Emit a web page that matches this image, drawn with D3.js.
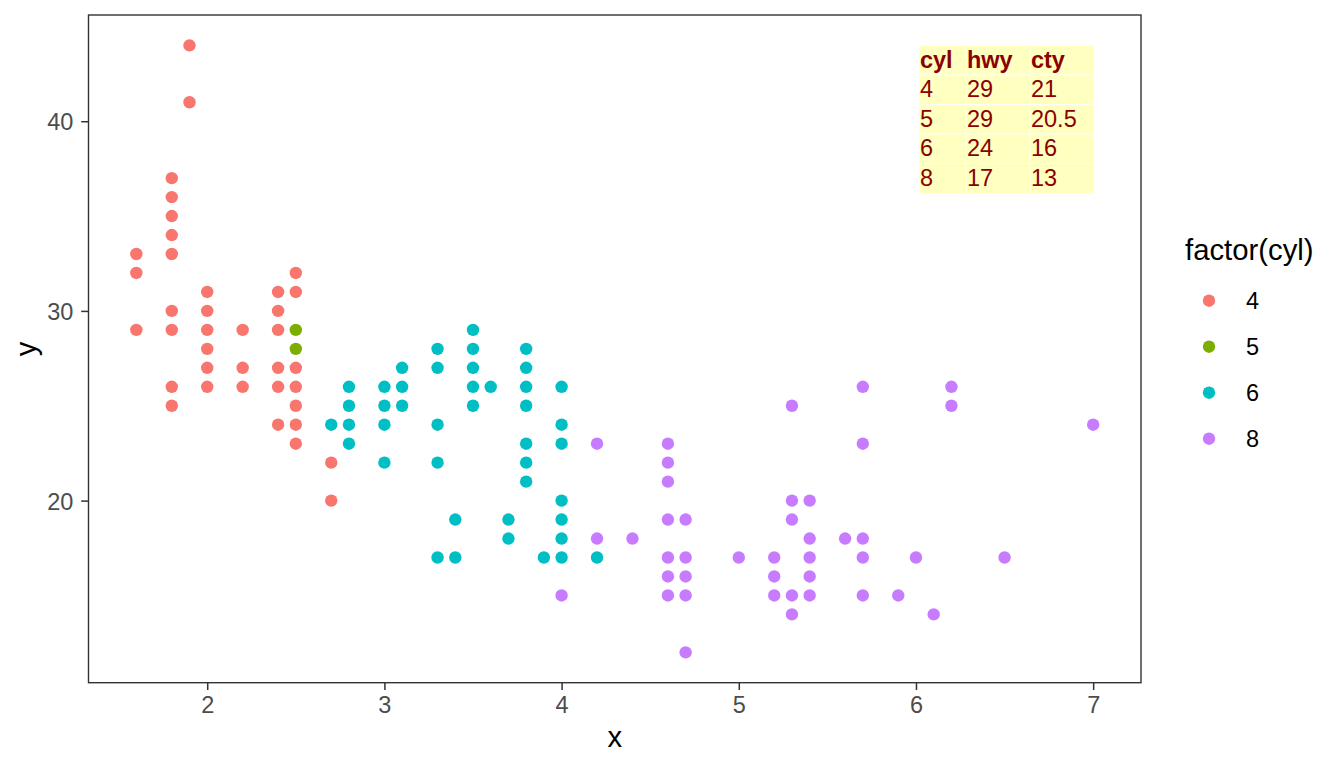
<!DOCTYPE html>
<html>
<head>
<meta charset="utf-8">
<script src="https://cdn.jsdelivr.net/npm/d3@7"></script>
<style>
  html, body { margin: 0; padding: 0; background: #ffffff; }
  svg { display: block; font-family: "Liberation Sans", Arial, sans-serif; }
</style>
</head>
<body>
<svg id="chart"></svg>
<script>
// data: displ (x) and hwy (y) per cylinder group
const cylLevels = ["4", "5", "6", "8"];
const cylColors = ["#F8766D", "#7CAE00", "#00BFC4", "#C77CFF"];

const displ4 = [1.6, 1.6, 1.6,
  1.8, 1.8, 1.8, 1.8, 1.8, 1.8, 1.8, 1.8, 1.8,
  1.9, 1.9,
  2.0, 2.0, 2.0, 2.0, 2.0, 2.0,
  2.2, 2.2, 2.2,
  2.4, 2.4, 2.4, 2.4, 2.4, 2.4,
  2.5, 2.5, 2.5, 2.5, 2.5, 2.5, 2.5,
  2.7, 2.7];
const hwy4 = [33, 32, 29,
  37, 36, 35, 34, 33, 30, 29, 26, 25,
  44, 41,
  31, 30, 29, 28, 27, 26,
  29, 27, 26,
  31, 30, 29, 27, 26, 24,
  32, 31, 27, 26, 25, 24, 23,
  22, 20];

const displ5 = [2.5, 2.5];
const hwy5 = [29, 28];

const displ6 = [2.7,
  2.8, 2.8, 2.8, 2.8,
  3.0, 3.0, 3.0, 3.0,
  3.1, 3.1, 3.1,
  3.3, 3.3, 3.3, 3.3, 3.3,
  3.4, 3.4,
  3.5, 3.5, 3.5, 3.5, 3.5,
  3.6,
  3.7, 3.7,
  3.8, 3.8, 3.8, 3.8, 3.8, 3.8, 3.8,
  3.9,
  4.0, 4.0, 4.0, 4.0, 4.0, 4.0, 4.0,
  4.2];
const hwy6 = [24,
  26, 25, 24, 23,
  26, 25, 24, 22,
  27, 26, 25,
  28, 27, 24, 22, 17,
  19, 17,
  29, 28, 27, 26, 25,
  26,
  19, 18,
  28, 27, 26, 25, 23, 22, 21,
  17,
  26, 24, 23, 20, 19, 18, 17,
  17];

const displ8 = [4.0,
  4.2, 4.2,
  4.4,
  4.6, 4.6, 4.6, 4.6, 4.6, 4.6, 4.6,
  4.7, 4.7, 4.7, 4.7, 4.7,
  5.0,
  5.2, 5.2, 5.2,
  5.3, 5.3, 5.3, 5.3, 5.3,
  5.4, 5.4, 5.4, 5.4, 5.4,
  5.6,
  5.7, 5.7, 5.7, 5.7, 5.7,
  5.9, 6.0, 6.1,
  6.2, 6.2,
  6.5, 7.0];
const hwy8 = [15,
  23, 18,
  18,
  23, 22, 21, 19, 17, 16, 15,
  19, 17, 16, 15, 12,
  17,
  17, 16, 15,
  25, 20, 19, 15, 14,
  20, 18, 17, 16, 15,
  18,
  26, 23, 18, 17, 15,
  15, 17, 14,
  26, 25,
  17, 24];

const xTicks = [2, 3, 4, 5, 6, 7];
const yTicks = [20, 30, 40];

// summary table drawn in the top right corner
const tableHeader = ["cyl", "hwy", "cty"];
const tableCyl = ["4", "5", "6", "8"];
const tableHwy = ["29", "29", "24", "17"];
const tableCty = ["21", "20.5", "16", "13"];

const width = 1344;
const height = 768;
const panel = {left: 88.5, right: 1141, top: 15, bottom: 682.7};

const svg = d3.select("#chart")
  .attr("width", width)
  .attr("height", height);

const groups = [
  {cyl: "4", x: displ4, y: hwy4},
  {cyl: "5", x: displ5, y: hwy5},
  {cyl: "6", x: displ6, y: hwy6},
  {cyl: "8", x: displ8, y: hwy8}
];
const points = groups.flatMap(g => g.x.map((d, i) => ({displ: d, hwy: g.y[i], cyl: g.cyl})));

const color = d3.scaleOrdinal().domain(cylLevels).range(cylColors);

// ggplot-style 5% expansion of the data range
const xExt = d3.extent(points, d => d.displ);
const yExt = d3.extent(points, d => d.hwy);
const xPad = (xExt[1] - xExt[0]) * 0.05;
const yPad = (yExt[1] - yExt[0]) * 0.05;

const x = d3.scaleLinear()
  .domain([xExt[0] - xPad, xExt[1] + xPad])
  .range([panel.left, panel.right]);

const y = d3.scaleLinear()
  .domain([yExt[0] - yPad, yExt[1] + yPad])
  .range([panel.bottom, panel.top]);

// axes
const xAxis = svg.append("g")
  .attr("transform", `translate(0, ${panel.bottom})`)
  .call(d3.axisBottom(x).tickValues(xTicks).tickFormat(d3.format("d"))
    .tickSize(7.3).tickPadding(6.7));

const yAxis = svg.append("g")
  .attr("transform", `translate(${panel.left}, 0)`)
  .call(d3.axisLeft(y).tickValues(yTicks).tickFormat(d3.format("d"))
    .tickSize(7.3).tickPadding(7.9));

[xAxis, yAxis].forEach(a => {
  a.select(".domain").remove();
  a.selectAll(".tick line").attr("stroke", "#333333").attr("stroke-width", 1.5);
  a.selectAll(".tick text")
    .attr("fill", "#4D4D4D")
    .style("font-size", "23.5px")
    .style("font-family", "'Liberation Sans', Arial, sans-serif");
});
yAxis.selectAll(".tick text").attr("dy", "0.36em");

// points
svg.append("g")
  .selectAll("circle")
  .data(points)
  .enter()
  .append("circle")
    .attr("cx", d => x(d.displ))
    .attr("cy", d => y(d.hwy))
    .attr("r", 6.2)
    .attr("fill", d => color(d.cyl));

// table annotation
const colLeft = [0, 47, 111];
const colWidth = [47, 64, 64];
const rowH = 29.6;
const tableLeft = x(6) + 3;
const tableTop = y(44);
const tableData = [tableHeader].concat(tableCyl.map((c, i) => [c, tableHwy[i], tableCty[i]]));

const table = svg.append("g")
  .attr("transform", `translate(${tableLeft}, ${tableTop})`);

tableData.forEach((row, r) => {
  row.forEach((cell, c) => {
    table.append("rect")
      .attr("x", colLeft[c])
      .attr("y", r * rowH)
      .attr("width", colWidth[c])
      .attr("height", rowH)
      .attr("fill", "#FFFFC0")
      .attr("stroke", "#ffffff")
      .attr("stroke-width", 0.6);
    table.append("text")
      .attr("x", colLeft[c] + 1)
      .attr("y", r * rowH + 22.2)
      .attr("fill", "#8B0000")
      .style("font-size", "23.5px")
      .style("font-weight", r === 0 ? "bold" : "normal")
      .text(cell);
  });
});

// panel border
svg.append("rect")
  .attr("x", panel.left)
  .attr("y", panel.top)
  .attr("width", panel.right - panel.left)
  .attr("height", panel.bottom - panel.top)
  .attr("fill", "none")
  .attr("stroke", "#333333")
  .attr("stroke-width", 1.4);

// axis titles
svg.append("text")
  .attr("x", (panel.left + panel.right) / 2)
  .attr("y", 747)
  .attr("text-anchor", "middle")
  .style("font-size", "29.3px")
  .text("x");

svg.append("text")
  .attr("transform", `translate(36, ${(panel.top + panel.bottom) / 2}) rotate(-90)`)
  .attr("text-anchor", "middle")
  .style("font-size", "29.3px")
  .text("y");

// legend
const legend = svg.append("g");
legend.append("text")
  .attr("x", 1185)
  .attr("y", 259.5)
  .style("font-size", "29.3px")
  .text("factor(cyl)");

const keys = legend.selectAll("g.key")
  .data(cylLevels)
  .enter()
  .append("g")
    .attr("class", "key")
    .attr("transform", (d, i) => `translate(0, ${300.7 + i * 46})`);

keys.append("circle")
  .attr("cx", 1209)
  .attr("cy", 0)
  .attr("r", 6.2)
  .attr("fill", d => color(d));

keys.append("text")
  .attr("x", 1246)
  .attr("y", 8.5)
  .style("font-size", "23.5px")
  .text(d => d);
</script>
</body>
</html>
